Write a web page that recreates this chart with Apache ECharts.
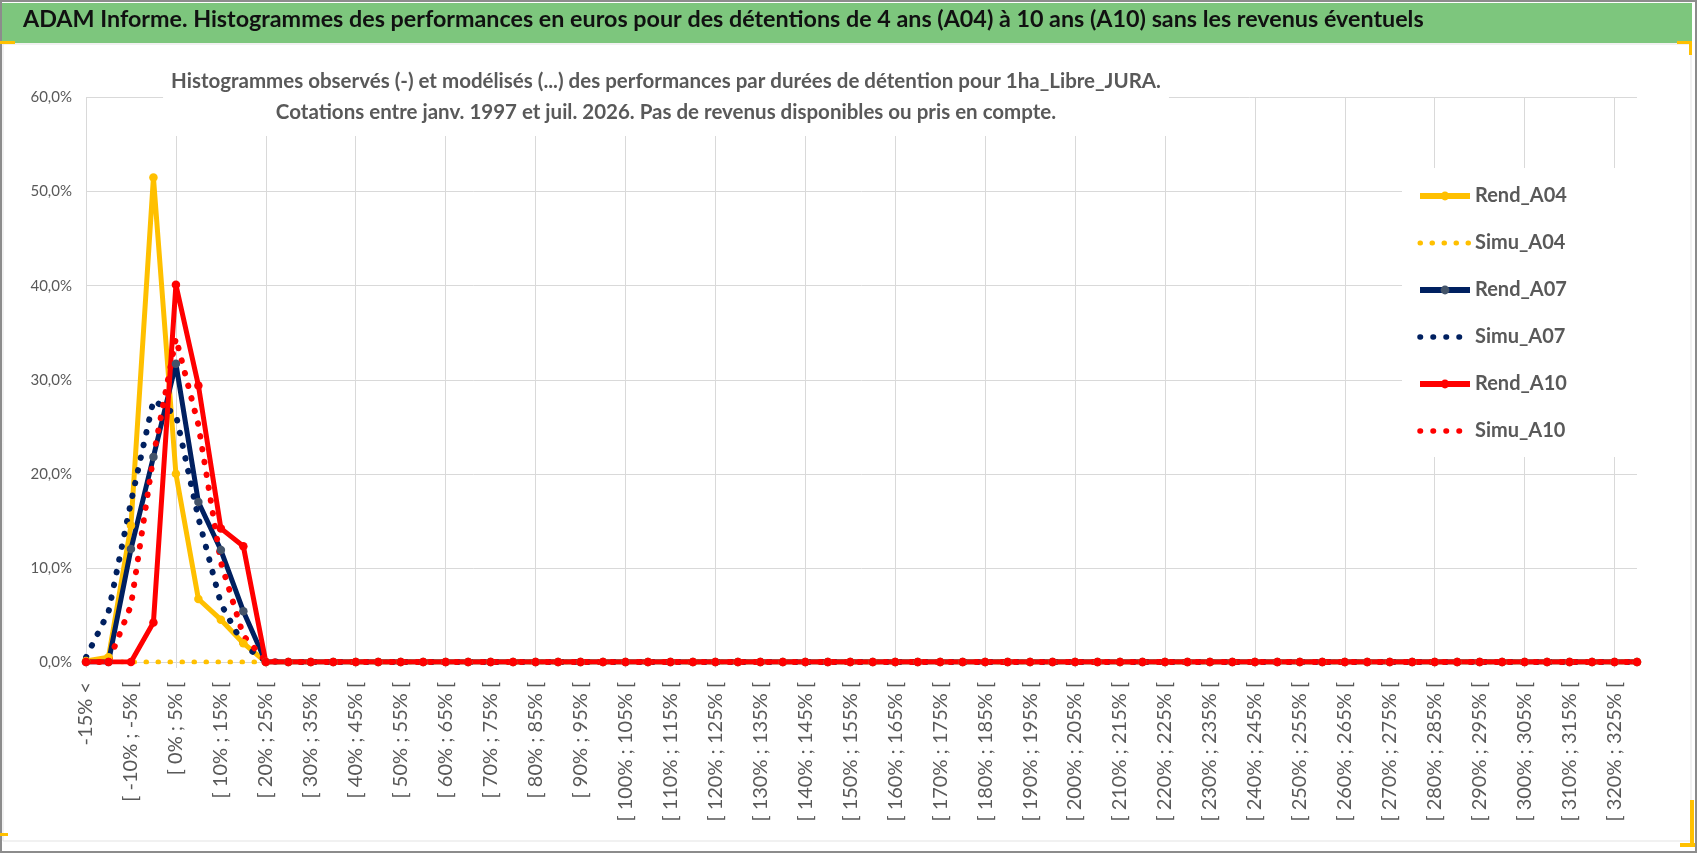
<!DOCTYPE html>
<html>
<head>
<meta charset="utf-8">
<script src="https://cdn.jsdelivr.net/npm/echarts@6/dist/echarts.min.js"></script>
<style>
  html, body { margin: 0; padding: 0; background: #fff; }
  #chart { width: 1698px; height: 854px; }
</style>
</head>
<body>
<div id="chart"></div>
<script>
// classes de performance (axe des catégories)
const categories = [
  '-15% <', '[ -15% ; -10% [', '[ -10% ; -5% [', '[ -5% ; 0% [', '[ 0% ; 5% [',
  '[ 5% ; 10% [', '[ 10% ; 15% [', '[ 15% ; 20% [', '[ 20% ; 25% [', '[ 25% ; 30% [',
  '[ 30% ; 35% [', '[ 35% ; 40% [', '[ 40% ; 45% [', '[ 45% ; 50% [', '[ 50% ; 55% [',
  '[ 55% ; 60% [', '[ 60% ; 65% [', '[ 65% ; 70% [', '[ 70% ; 75% [', '[ 75% ; 80% [',
  '[ 80% ; 85% [', '[ 85% ; 90% [', '[ 90% ; 95% [', '[ 95% ; 100% [', '[ 100% ; 105% [',
  '[ 105% ; 110% [', '[ 110% ; 115% [', '[ 115% ; 120% [', '[ 120% ; 125% [', '[ 125% ; 130% [',
  '[ 130% ; 135% [', '[ 135% ; 140% [', '[ 140% ; 145% [', '[ 145% ; 150% [', '[ 150% ; 155% [',
  '[ 155% ; 160% [', '[ 160% ; 165% [', '[ 165% ; 170% [', '[ 170% ; 175% [', '[ 175% ; 180% [',
  '[ 180% ; 185% [', '[ 185% ; 190% [', '[ 190% ; 195% [', '[ 195% ; 200% [', '[ 200% ; 205% [',
  '[ 205% ; 210% [', '[ 210% ; 215% [', '[ 215% ; 220% [', '[ 220% ; 225% [', '[ 225% ; 230% [',
  '[ 230% ; 235% [', '[ 235% ; 240% [', '[ 240% ; 245% [', '[ 245% ; 250% [', '[ 250% ; 255% [',
  '[ 255% ; 260% [', '[ 260% ; 265% [', '[ 265% ; 270% [', '[ 270% ; 275% [', '[ 275% ; 280% [',
  '[ 280% ; 285% [', '[ 285% ; 290% [', '[ 290% ; 295% [', '[ 295% ; 300% [', '[ 300% ; 305% [',
  '[ 305% ; 310% [', '[ 310% ; 315% [', '[ 315% ; 320% [', '[ 320% ; 325% [', '[ 325% ; 330% ['
];

// fréquences en %
const rendA04 = [
  0.1, 0.5, 14.5, 51.5, 20.0, 6.7, 4.5, 2.0, 0, 0,
  0, 0, 0, 0, 0, 0, 0, 0, 0, 0,
  0, 0, 0, 0, 0, 0, 0, 0, 0, 0,
  0, 0, 0, 0, 0, 0, 0, 0, 0, 0,
  0, 0, 0, 0, 0, 0, 0, 0, 0, 0,
  0, 0, 0, 0, 0, 0, 0, 0, 0, 0,
  0, 0, 0, 0, 0, 0, 0, 0, 0, 0
];
const simuA04 = [
  0, 0, 0, 0, 0, 0, 0, 0, 0, 0,
  0, 0, 0, 0, 0, 0, 0, 0, 0, 0,
  0, 0, 0, 0, 0, 0, 0, 0, 0, 0,
  0, 0, 0, 0, 0, 0, 0, 0, 0, 0,
  0, 0, 0, 0, 0, 0, 0, 0, 0, 0,
  0, 0, 0, 0, 0, 0, 0, 0, 0, 0,
  0, 0, 0, 0, 0, 0, 0, 0, 0, 0
];
const rendA07 = [
  0, 0, 12.0, 21.8, 31.7, 17.0, 11.9, 5.4, 0, 0,
  0, 0, 0, 0, 0, 0, 0, 0, 0, 0,
  0, 0, 0, 0, 0, 0, 0, 0, 0, 0,
  0, 0, 0, 0, 0, 0, 0, 0, 0, 0,
  0, 0, 0, 0, 0, 0, 0, 0, 0, 0,
  0, 0, 0, 0, 0, 0, 0, 0, 0, 0,
  0, 0, 0, 0, 0, 0, 0, 0, 0, 0
];
const simuA07 = [
  0.5, 5.3, 17.0, 27.8, 26.3, 15.3, 6.2, 1.8, 0.1, 0,
  0, 0, 0, 0, 0, 0, 0, 0, 0, 0,
  0, 0, 0, 0, 0, 0, 0, 0, 0, 0,
  0, 0, 0, 0, 0, 0, 0, 0, 0, 0,
  0, 0, 0, 0, 0, 0, 0, 0, 0, 0,
  0, 0, 0, 0, 0, 0, 0, 0, 0, 0,
  0, 0, 0, 0, 0, 0, 0, 0, 0, 0
];
const rendA10 = [
  0, 0, 0, 4.2, 40.1, 29.4, 14.2, 12.3, 0, 0,
  0, 0, 0, 0, 0, 0, 0, 0, 0, 0,
  0, 0, 0, 0, 0, 0, 0, 0, 0, 0,
  0, 0, 0, 0, 0, 0, 0, 0, 0, 0,
  0, 0, 0, 0, 0, 0, 0, 0, 0, 0,
  0, 0, 0, 0, 0, 0, 0, 0, 0, 0,
  0, 0, 0, 0, 0, 0, 0, 0, 0, 0
];
const simuA10 = [
  0, 0, 6.0, 21.9, 34.4, 25.2, 10.6, 2.8, 0.1, 0,
  0, 0, 0, 0, 0, 0, 0, 0, 0, 0,
  0, 0, 0, 0, 0, 0, 0, 0, 0, 0,
  0, 0, 0, 0, 0, 0, 0, 0, 0, 0,
  0, 0, 0, 0, 0, 0, 0, 0, 0, 0,
  0, 0, 0, 0, 0, 0, 0, 0, 0, 0,
  0, 0, 0, 0, 0, 0, 0, 0, 0, 0
];

const mainTitle = 'ADAM Informe. Histogrammes des performances en euros pour des détentions de 4 ans (A04) à 10 ans (A10) sans les revenus éventuels';
const subTitle = 'Histogrammes observés (-) et modélisés (...) des performances par durées de détention pour 1ha_Libre_JURA.\nCotations entre janv. 1997 et juil. 2026. Pas de revenus disponibles ou pris en compte.';

const GOLD = '#FFC000', NAVY = '#002060', RED = '#FF0000';
const GREY_TXT = '#595959', GRID = '#d9d9d9';

function rend(name, data, color, markColor) {
    return {
        name: name, type: 'line', data: data,
        symbol: 'circle', symbolSize: 8.5, showSymbol: true,
        lineStyle: {color: color, width: 5, cap: 'round', join: 'round'},
        itemStyle: {color: markColor || color, borderWidth: 0},
        emphasis: {disabled: true},
        animation: false
    }
}

function simu(name, data, color, w, gap) {
    return {
        name: name, type: 'line', data: data,
        symbol: 'none', showSymbol: false,
        lineStyle: {color: color, width: w, type: [0.5, gap], cap: 'round'},
        itemStyle: {color: color},
        emphasis: {disabled: true},
        animation: false
    }
}

// entrées de légende : trait épais + marqueur, ou pointillés sans marqueur
function legRend(name) {
    return {name: name, lineStyle: {width: 6, cap: 'butt'}}
}
function legSimu(name, w) {
    return {name: name, lineStyle: {width: w, cap: 'round'}, itemStyle: {opacity: 0}}
}

const chart = echarts.init(document.getElementById('chart'), null, {renderer: 'canvas'});

chart.setOption({
    backgroundColor: '#fff',
    animation: false,
    textStyle: {fontFamily: 'Lato'},
    grid: {left: 86, right: 61, top: 97.5, bottom: 192, containLabel: false},
    graphic: [
        // cadre extérieur
        {type: 'rect', z: -10, shape: {x: 1, y: 1, width: 1695, height: 851},
            style: {fill: '#fff', stroke: '#8c8c8c', lineWidth: 2}},
        {type: 'rect', z: -9, shape: {x: 3, y: 44, width: 1688, height: 797},
            style: {fill: 'none', stroke: '#e3e3e3', lineWidth: 1}},
        // bandeau vert du titre
        {type: 'rect', z: -8, shape: {x: 2, y: 3, width: 1690, height: 40},
            style: {fill: '#7dc67d'}},
        {type: 'rect', z: -7, shape: {x: 0, y: 41, width: 15, height: 3}, style: {fill: GOLD}},
        {type: 'rect', z: -7, shape: {x: 1677, y: 41, width: 15, height: 3}, style: {fill: GOLD}},
        {type: 'rect', z: -7, shape: {x: 1689, y: 41, width: 3, height: 14}, style: {fill: GOLD}},
        {type: 'rect', z: -7, shape: {x: 1680, y: 843, width: 15, height: 4}, style: {fill: GOLD}},
        {type: 'rect', z: -7, shape: {x: 1690, y: 800, width: 4, height: 47}, style: {fill: GOLD}},
        {type: 'rect', z: -7, shape: {x: 0, y: 833, width: 8, height: 3}, style: {fill: GOLD}},
        {type: 'text', z: 5, left: 23, top: 8,
            style: {text: mainTitle, fill: '#111', font: 'bold 23.3px Lato'}},
        // sous-titre sur fond blanc
        {type: 'text', z: 5, x: 666, y: 64,
            style: {
                text: subTitle, fill: GREY_TXT, font: 'bold 20.5px Lato',
                align: 'center', verticalAlign: 'top', lineHeight: 31,
                backgroundColor: '#fff', padding: [2, 8, 8, 8]
            }}
    ],
    legend: {
        orient: 'vertical', left: 1402, top: 168,
        backgroundColor: '#fff',
        padding: [18, 77, 16, 15],
        itemWidth: 50, itemHeight: 11, itemGap: 27,
        textStyle: {color: GREY_TXT, fontSize: 20, fontWeight: 'bold', fontFamily: 'Lato'},
        data: [legRend('Rend_A04'), legSimu('Simu_A04', 5), legRend('Rend_A07'),
               legSimu('Simu_A07', 5.5), legRend('Rend_A10'), legSimu('Simu_A10', 5.5)]
    },
    xAxis: {
        type: 'category', data: categories, boundaryGap: false,
        axisLine: {show: true, lineStyle: {color: GRID, width: 1}},
        axisTick: {show: true, interval: 3, length: 6, lineStyle: {color: GRID}},
        splitLine: {show: true, interval: 3, lineStyle: {color: GRID, width: 1}},
        axisLabel: {interval: 1, rotate: 90, margin: 20, color: GREY_TXT, fontSize: 20, fontFamily: 'Lato'}
    },
    yAxis: {
        type: 'value', min: 0, max: 60, interval: 10,
        axisLine: {show: false}, axisTick: {show: false},
        splitLine: {lineStyle: {color: GRID, width: 1}},
        axisLabel: {
            margin: 14, color: GREY_TXT, fontSize: 15, fontFamily: 'Lato',
            formatter: v => v.toFixed(1).replace('.', ',') + '%'
        }
    },
    series: [
        rend('Rend_A04', rendA04, GOLD),
        simu('Simu_A04', simuA04, GOLD, 5, 11.5),
        rend('Rend_A07', rendA07, NAVY, '#44546A'),
        simu('Simu_A07', simuA07, NAVY, 6, 12.5),
        rend('Rend_A10', rendA10, RED),
        simu('Simu_A10', simuA10, RED, 6, 12.5)
    ]
});
</script>
</body>
</html>
